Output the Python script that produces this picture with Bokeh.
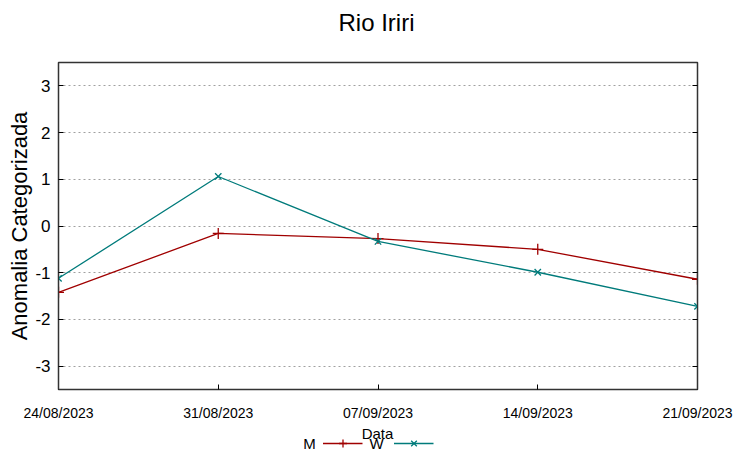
import datetime as dt
from bokeh.plotting import figure
from bokeh.layouts import column
from bokeh.models import (Range1d, FixedTicker, DatetimeTickFormatter, Legend, LegendItem,
                          LinearAxis, CustomJSTickFormatter, Label)
from bokeh.embed import file_html
from bokeh.resources import INLINE

# ---- data ----
dates = ["2023-08-24", "2023-08-31", "2023-09-07", "2023-09-14", "2023-09-21"]
m_values = [-1.42, -0.16, -0.27, -0.50, -1.14]
w_values = [-1.12, 1.06, -0.33, -0.99, -1.72]
y_ticks = [-3, -2, -1, 0, 1, 2, 3]
title_text = "Rio Iriri"
x_label = "Data"
y_label = "Anomalia Categorizada"
series_names = ["M", "W"]

xs = [dt.datetime.strptime(d, "%Y-%m-%d") for d in dates]
x_ms = [(x - dt.datetime(1970, 1, 1)).total_seconds() * 1000 for x in xs]

RED = "#a00000"
TEAL = "#007b7b"
FONT = "Liberation Sans"
W = 752
H_TOP, H_MAIN, H_LEG = 44, 380, 35
LEFT, RIGHT = 58, 55   # frame borders shared by the stacked strips
NAN = float("nan")


def blank(height):
    f = figure(width=W, height=height, output_backend="svg", toolbar_location=None,
               x_axis_type=None, y_axis_type=None, x_range=Range1d(0, 1), y_range=Range1d(0, 1),
               min_border_left=LEFT, min_border_right=RIGHT,
               min_border_top=0, min_border_bottom=0)
    f.outline_line_color = None
    f.xgrid.visible = False
    f.ygrid.visible = False
    return f


def text_label(fig, x, y, text, size):
    fig.add_layout(Label(x=x - LEFT, y=y, x_units="screen", y_units="screen", text=text,
                         text_font=FONT, text_font_size=size, text_color="#000000",
                         text_align="center", text_baseline="middle"))


# ---- title strip ----
pt = blank(H_TOP)
text_label(pt, 376, H_TOP - 22, title_text, "24px")

# ---- main plot ----
p = figure(width=W, height=H_MAIN, output_backend="svg", toolbar_location=None,
           x_axis_type="datetime",
           x_range=Range1d(xs[0], xs[-1]), y_range=Range1d(-3.5, 3.5),
           min_border_left=LEFT, min_border_right=RIGHT, min_border_top=18, min_border_bottom=35)
p.outline_line_color = "#333333"
p.outline_line_width = 1.5

xa = p.xaxis[0]
xa.ticker = FixedTicker(ticks=x_ms)
xa.formatter = DatetimeTickFormatter(days="%d/%m/%Y", months="%d/%m/%Y", years="%d/%m/%Y")
xa.major_label_text_font = FONT
xa.major_label_text_font_size = "14px"
xa.major_label_text_color = "#000000"
xa.major_label_standoff = 15
xa.major_tick_in = 5
xa.major_tick_out = 0
xa.minor_tick_in = 0
xa.minor_tick_out = 0
xa.axis_line_color = "#333333"

ya = p.yaxis[0]
ya.ticker = FixedTicker(ticks=y_ticks)
ya.major_label_overrides = {t: str(t) for t in y_ticks}
ya.major_label_text_font = FONT
ya.major_label_text_font_size = "17px"
ya.major_label_text_color = "#000000"
ya.major_label_standoff = 8
ya.major_tick_in = 5
ya.major_tick_out = 0
ya.minor_tick_in = 0
ya.minor_tick_out = 0
ya.axis_label = y_label
ya.axis_label_text_font = FONT
ya.axis_label_text_font_size = "22px"
ya.axis_label_text_font_style = "normal"
ya.axis_label_text_color = "#000000"
ya.axis_label_standoff = 0
ya.axis_line_color = "#333333"

ra = LinearAxis(ticker=FixedTicker(ticks=y_ticks),
                formatter=CustomJSTickFormatter(code="return ''"),
                major_tick_in=5, major_tick_out=0, minor_tick_in=0, minor_tick_out=0,
                major_label_standoff=0, axis_line_color="#333333")
p.add_layout(ra, "right")

p.xgrid.visible = False
p.ygrid.grid_line_color = "#a0a0a0"
p.ygrid.grid_line_dash = "2 3"
p.ygrid.grid_line_width = 1

STYLE = {
    "M": dict(color=RED, marker="cross", size=11),
    "W": dict(color=TEAL, marker="x", size=9),
}
for name, vals in zip(series_names, [m_values, w_values]):
    st = STYLE[name]
    p.line(xs, vals, line_color=st["color"], line_width=1.3)
    p.scatter(xs, vals, marker=st["marker"], size=st["size"], line_color=st["color"], line_width=1.3)

# ---- x label + legend strip (gnuplot style: key text to the left of its sample) ----
pl = blank(H_LEG)
text_label(pl, 377, 26, x_label, "15px")
items = []
for name in series_names:
    st = STYLE[name]
    r_line = pl.line(x=[NAN], y=[NAN], line_color=st["color"], line_width=1.3)
    r_mark = pl.scatter(x=[NAN], y=[NAN], marker=st["marker"], size=st["size"],
                        line_color=st["color"], line_width=1.3)
    items.append(LegendItem(label=" ", renderers=[r_line, r_mark]))
legend = Legend(items=items, orientation="horizontal", location="top_center",
                glyph_width=40, glyph_height=20, label_height=20, label_width=0,
                label_standoff=0, spacing=31, padding=0, margin=9,
                label_text_font=FONT, label_text_font_size="15px",
                border_line_alpha=0, background_fill_alpha=0)
pl.add_layout(legend, "center")
for name, xpos in zip(series_names, [309, 376]):
    text_label(pl, xpos, 16, name, "15px")

layout = column(pt, p, pl, spacing=0)
open("out.html", "w").write(file_html(layout, INLINE))
